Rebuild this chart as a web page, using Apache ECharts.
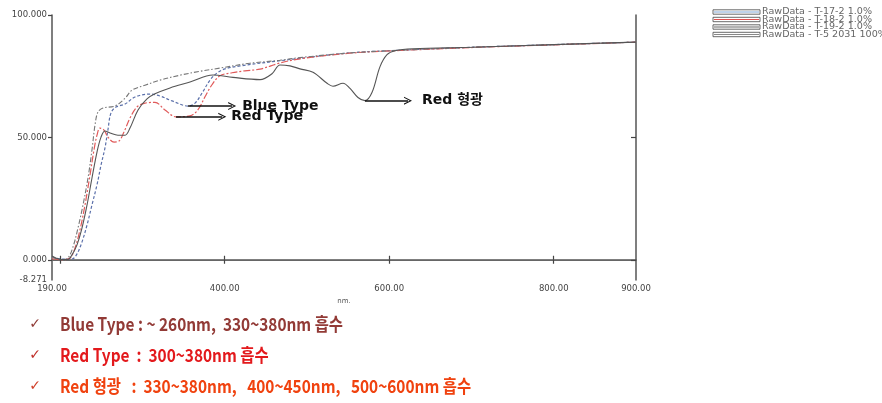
<!DOCTYPE html>
<html>
<head>
<meta charset="utf-8">
<script src="https://cdn.jsdelivr.net/npm/echarts@6/dist/echarts.min.js"></script>
<style>
  html, body { margin: 0; padding: 0; background: #fff; }
  #chart { width: 882px; height: 403px; }
</style>
</head>
<body>
<div id="chart"></div>
<script>
// Transmittance spectra (wavelength in nm, %T)
const t17Nm  = [190, 202.2, 214.3, 220.4, 226.5, 232.6, 238.6, 244.7, 249.6, 254.4, 258, 261.7, 267.8, 278.8, 290.9, 309.2, 321.3, 335.9, 355.4, 363.9, 372.4, 382.1, 390.6, 400.3, 418.6, 467, 552, 613, 700, 800, 900];
const t17Val = [1.1, 0.3, 0.3, 2.4, 7.3, 14.2, 22.4, 30.6, 38.7, 45.7, 53.1, 60, 62.4, 63.6, 66.5, 67.7, 66.9, 64.9, 62.8, 64, 68.1, 73.4, 76.3, 78, 79.2, 81.3, 84.5, 85.6, 86.8, 87.9, 88.9];

const t18Nm  = [190, 202, 211.9, 218, 224, 230.1, 236.2, 241, 244.7, 248.3, 253.2, 258, 265.4, 271.5, 277.5, 284.8, 293.3, 303, 315.2, 327.4, 340.8, 357.8, 367.5, 376, 384.5, 394.2, 408.8, 424.6, 442.9, 467.2, 491.5, 552, 613, 700, 800, 900];
const t18Val = [0.4, 0, 0.7, 4.8, 12.2, 22.4, 34.6, 44.8, 50.9, 53.8, 53, 50.1, 48.1, 48.5, 52.2, 57.9, 62.4, 64, 64.3, 61.2, 58.4, 58.8, 61.3, 66.6, 71.5, 75.2, 76.4, 77.2, 77.9, 80.4, 82.1, 84.4, 85.5, 86.7, 87.8, 88.9];

const t19Nm  = [190, 202, 209.5, 215.5, 221.6, 227.7, 233.8, 238.6, 242.3, 245.9, 252, 266.6, 278.8, 287.3, 303, 321.3, 345.6, 370, 394, 430.7, 467, 491.5, 552, 613, 700, 800, 900];
const t19Val = [1, 0, 0.8, 5.2, 13, 22.4, 33.5, 44.9, 55.1, 60.4, 62, 62.8, 66, 69.3, 71.3, 73.4, 75.4, 77, 78.3, 80.3, 81.5, 82.6, 84.5, 85.6, 86.8, 87.9, 88.9];

const t5Nm   = [190, 196, 202.2, 209.5, 214.3, 220.4, 226.5, 232.6, 238.6, 244.7, 249.6, 254.4, 260.5, 270.2, 278.8, 284.8, 294.6, 305.5, 315.2, 333.5, 357.8, 385.7, 410, 442.9, 457.5, 467.2, 479.4, 491.5, 507.3, 524.4, 531.6, 543.8, 552.3, 562, 570.5, 579, 588.8, 597.3, 607, 628.9, 700, 800, 900];
const t5Val  = [1.5, 0.5, 0.1, 0.1, 2, 6.1, 13, 22.4, 33.4, 44, 50.1, 52.6, 51.8, 50.9, 50.9, 53.8, 61.2, 65.7, 67.8, 70.2, 72.6, 75.5, 74.5, 73.6, 76, 79.6, 79.2, 78, 76.6, 72.1, 70.9, 72.1, 70, 66.3, 65, 68.3, 78.9, 83.8, 85.4, 86.2, 86.8, 87.9, 88.9];

const seriesNames = ['RawData - T-17-2 1.0%', 'RawData - T-18-2 1.0%', 'RawData - T-19-2 1.0%', 'RawData - T-5 2031 100%'];

// Axis ticks and labels
const xTickValues  = [200, 400, 600, 800];
const xLabelValues = [190, 400, 600, 800, 900];
const yLabelValues = [-8.271, 0, 50, 100];
const yTickValues  = [0, 50, 100];
const yRightTicks  = [0, 50];

// Arrow annotations: start point on the curve, end wavelength of the arrow
const blueTypeFrom = [355.4, 62.8], blueTypeTo = 409;
const redTypeFrom  = [340.8, 58.4], redTypeTo  = 397;
const redFluoFrom  = [570.5, 65.0], redFluoTo  = 622.8;

// Summary notes below the chart
const notes = [
  'Blue Type : ~ 260nm,  330~380nm 흡수',
  'Red Type  :  300~380nm 흡수',
  'Red 형광   :  330~380nm,   400~450nm,   500~600nm 흡수'
];
const noteColors = ['#923a36', '#e3191c', '#f0420f'];
const checkColors = ['#8f3a36', '#c0302a', '#d0402a'];

const pairs = (xs, ys) => xs.map((x, i) => [x, ys[i]]);

const ARROW = 'path://M0,10 L5,0 L10,10 L8.6,10 L5,2.8 L1.4,10 Z';
function arrowLine(from, toX, text, gap) {
  return {
    silent: true,
    symbol: ['none', ARROW],
    symbolSize: [8, 8],
    lineStyle: { color: '#111', width: 1.5, type: 'solid' },
    label: {
      show: true, position: 'end', distance: gap, formatter: text,
      color: '#111', fontSize: 14, fontWeight: 'bold',
      fontFamily: 'DejaVu Sans, Noto Sans CJK KR'
    },
    emphasis: { disabled: true },
    data: [[{ coord: from }, { coord: [toX, from[1]] }]]
  };
}

const chart = echarts.init(document.getElementById('chart'), null, { renderer: 'canvas' });

const axisFont = { fontFamily: 'DejaVu Sans', fontSize: 8.5, color: '#444' };

// Legend drawn as outlined swatches with the series stroke inside
const legendColors = ['#7fa6d6', '#e05050', '#666', '#888'];
const legendRows = [12, 19.5, 27, 34.5];
const legendFont = '8px "DejaVu Sans"';
const measureCtx = document.createElement('canvas').getContext('2d');
measureCtx.font = legendFont;
const legendScale = 110 / measureCtx.measureText(seriesNames[0]).width;

const graphics = [];
legendRows.forEach((y, i) => {
  graphics.push({
    type: 'rect', shape: { x: 713, y: y - 2.2, width: 47, height: 4.4 },
    style: { fill: '#fff', stroke: '#444', lineWidth: 0.8 }, silent: true
  });
  graphics.push({
    type: 'line', shape: { x1: 714, y1: y, x2: 759, y2: y },
    style: { stroke: legendColors[i], lineWidth: 1 }, silent: true
  });
  graphics.push({
    type: 'text', x: 762, y: y, scaleX: legendScale,
    style: { text: seriesNames[i], x: 0, y: 0, fill: '#666', font: legendFont, textVerticalAlign: 'middle' },
    silent: true
  });
});

// Notes: a condensed bold face, scaled horizontally
const noteFont = 'bold 18px "Noto Sans CJK KR"';
measureCtx.font = noteFont;
const noteScale = 283 / measureCtx.measureText(notes[0]).width;
const noteRows = [324, 355, 386];
notes.forEach((t, i) => {
  graphics.push({
    type: 'text', x: 35, y: noteRows[i],
    style: { text: '✓', x: 0, y: 0, fill: checkColors[i], font: '14px "DejaVu Sans"', textAlign: 'center', textVerticalAlign: 'middle' },
    silent: true
  });
  graphics.push({
    type: 'text', x: 60, y: noteRows[i], scaleX: noteScale,
    style: { text: t, x: 0, y: 0, fill: noteColors[i], font: noteFont, textVerticalAlign: 'middle' },
    silent: true
  });
});

const option = {
  animation: false,
  backgroundColor: '#fff',
  grid: { left: 52, right: 246, top: 15, bottom: 123, containLabel: false },
  xAxis: [
    {
      type: 'value', min: 190, max: 900, position: 'bottom',
      name: 'nm.', nameLocation: 'middle', nameGap: 9,
      nameTextStyle: { fontFamily: 'DejaVu Sans', fontSize: 7, color: '#555' },
      axisLine: { show: true, lineStyle: { color: '#555', width: 1.5 } },
      axisTick: { show: true, inside: true, length: 4, customValues: xTickValues, lineStyle: { color: '#444', width: 1.2 } },
      axisLabel: Object.assign({ show: true, margin: 4, customValues: xLabelValues, showMinLabel: true, showMaxLabel: true, formatter: v => v.toFixed(2) }, axisFont),
      splitLine: { show: false }
    },
    {
      type: 'value', min: 190, max: 900, position: 'top',
      axisLine: { show: true, lineStyle: { color: '#666', width: 1.2 } },
      axisTick: { show: true, inside: true, length: 4, customValues: xTickValues, lineStyle: { color: '#444', width: 1.2 } },
      axisLabel: { show: false },
      splitLine: { show: false }
    }
  ],
  yAxis: [
    {
      type: 'value', min: -8.271, max: 100, position: 'left',
      axisLine: { show: true, lineStyle: { color: '#555', width: 1.5 } },
      axisTick: { show: true, inside: false, length: 4, customValues: yTickValues, lineStyle: { color: '#444', width: 1.2 } },
      axisLabel: Object.assign({ show: true, margin: 5, customValues: yLabelValues, showMinLabel: true, showMaxLabel: true, formatter: v => v.toFixed(3) }, axisFont),
      splitLine: { show: false }
    },
    {
      type: 'value', min: -8.271, max: 100, position: 'right',
      axisLine: { show: true, lineStyle: { color: '#555', width: 1.5 } },
      axisTick: { show: true, inside: true, length: 5, customValues: yRightTicks, lineStyle: { color: '#444', width: 1.2 } },
      axisLabel: { show: false },
      splitLine: { show: false }
    }
  ],
  series: [
    {
      name: seriesNames[0], type: 'line', data: pairs(t17Nm, t17Val), smooth: 0.35,
      showSymbol: false, lineStyle: { color: '#5b70aa', width: 1.2, type: [3, 2] },
      markLine: arrowLine(blueTypeFrom, blueTypeTo, 'Blue Type', 10)
    },
    {
      name: seriesNames[1], type: 'line', data: pairs(t18Nm, t18Val), smooth: 0.35,
      showSymbol: false, lineStyle: { color: '#e05a5a', width: 1.2, type: [7, 2, 2, 2] },
      markLine: arrowLine(redTypeFrom, redTypeTo, 'Red Type', 9)
    },
    {
      name: seriesNames[2], type: 'line', data: pairs(t19Nm, t19Val), smooth: 0.35,
      showSymbol: false, lineStyle: { color: '#777', width: 1.1, type: [5, 2, 1.5, 2] }
    },
    {
      name: seriesNames[3], type: 'line', data: pairs(t5Nm, t5Val), smooth: 0.35,
      showSymbol: false, lineStyle: { color: '#555', width: 1.1, type: 'solid' },
      markLine: arrowLine(redFluoFrom, redFluoTo, 'Red 형광', 14)
    }
  ],
  graphic: graphics
};

chart.setOption(option);
</script>
</body>
</html>
